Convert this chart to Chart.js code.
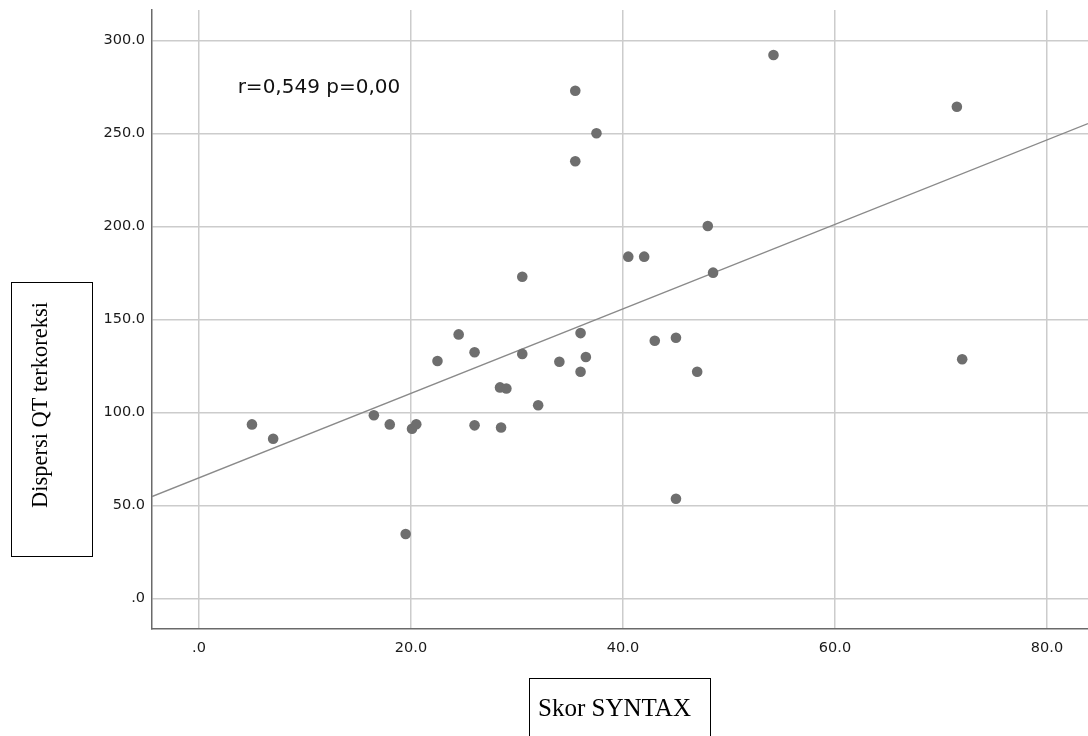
<!DOCTYPE html>
<html>
<head>
<meta charset="utf-8">
<script src="https://cdn.jsdelivr.net/npm/chart.js@4.4.1/dist/chart.umd.min.js"></script>
<style>
  html, body { margin: 0; padding: 0; background: #ffffff; }
  #wrap { width: 1088px; height: 736px; position: relative; }
</style>
</head>
<body>
<div id="wrap"><canvas id="c"></canvas></div>
<script>
// ---- Data ----
const syntaxScore = [5.0, 7.0, 16.5, 18.0, 20.1, 20.5, 19.5, 22.5, 24.5, 26.0, 26.0, 28.4, 29.0, 28.5,
  30.5, 30.5, 32.0, 34.0, 35.5, 35.5, 37.5, 36.0, 36.5, 36.0, 40.5, 42.0, 43.0, 45.0, 45.0, 47.0,
  48.0, 48.5, 54.2, 71.5, 72.0];
const qtDispersion = [93.5, 85.8, 98.4, 93.5, 91.2, 93.6, 34.6, 127.6, 141.9, 132.3, 93.0, 113.4, 112.8, 91.8,
  172.9, 131.4, 103.8, 127.2, 272.9, 235.0, 250.0, 142.6, 129.7, 121.8, 183.7, 183.7, 138.5, 140.1, 53.5, 121.8,
  200.2, 175.1, 292.1, 264.3, 128.5];
const fitLineX = [-4.43, 83.87];
const fitLineY = [54.7, 255.2];
const xTicks = [0, 20, 40, 60, 80];
const xTickLabels = ['.0', '20.0', '40.0', '60.0', '80.0'];
const yTicks = [0, 50, 100, 150, 200, 250, 300];
const yTickLabels = ['.0', '50.0', '100.0', '150.0', '200.0', '250.0', '300.0'];
const xTitle = 'Skor SYNTAX';
const yTitle = 'Dispersi QT terkoreksi';
const statText = 'r=0,549 p=0,00';

// ---- Decorations ----
function fitFont(ctx, text, targetW, family) {
  ctx.font = '100px ' + family;
  const w = ctx.measureText(text).width;
  return 100 * targetW / w;
}

const decor = {
  id: 'decor',
  afterDatasetsDraw(chart) {
    const ctx = chart.ctx;
    const xs = chart.scales.x, ys = chart.scales.y;
    ctx.save();
    ctx.fillStyle = '#111';
    ctx.font = '20px "DejaVu Sans"';
    ctx.textAlign = 'left';
    ctx.textBaseline = 'middle';
    ctx.fillText(statText, xs.getPixelForValue(3.65), ys.getPixelForValue(274.7));
    ctx.restore();
  },
  afterDraw(chart) {
    const ctx = chart.ctx;
    ctx.save();
    ctx.strokeStyle = '#000';
    ctx.lineWidth = 1;
    ctx.strokeRect(529.5, 678.5, 181, 70);
    const fam = '"Liberation Serif", serif';
    let fs = fitFont(ctx, xTitle, 153, fam);
    ctx.font = fs + 'px ' + fam;
    ctx.fillStyle = '#000';
    ctx.textAlign = 'left';
    ctx.textBaseline = 'alphabetic';
    ctx.fillText(xTitle, 538, 716);
    ctx.strokeRect(11.5, 282.5, 81, 274);
    fs = fitFont(ctx, yTitle, 206, fam);
    ctx.font = fs + 'px ' + fam;
    ctx.translate(47, 405);
    ctx.rotate(-Math.PI / 2);
    ctx.textAlign = 'center';
    ctx.fillText(yTitle, 0, 0);
    ctx.restore();
  }
};

const tickFont = { family: 'DejaVu Sans', size: 14.5 };

new Chart(document.getElementById('c'), {
  type: 'scatter',
  data: {
    datasets: [
      {
        type: 'scatter',
        data: syntaxScore.map((x, i) => ({ x: x, y: qtDispersion[i] })),
        backgroundColor: '#6e6e6e',
        borderColor: '#6e6e6e',
        borderWidth: 0,
        pointRadius: 5.3,
        order: 1
      },
      {
        type: 'line',
        data: fitLineX.map((x, i) => ({ x: x, y: fitLineY[i] })),
        borderColor: '#8a8a8a',
        borderWidth: 1.3,
        pointRadius: 0,
        fill: false,
        order: 2
      }
    ]
  },
  options: {
    responsive: true,
    maintainAspectRatio: false,
    animation: false,
    layout: { autoPadding: false, padding: { top: 10, left: 0, right: 0, bottom: 0 } },
    plugins: { legend: { display: false }, tooltip: { enabled: false } },
    scales: {
      x: {
        type: 'linear',
        min: -4.43,
        max: 83.87,
        afterBuildTicks: s => { s.ticks = xTicks.map(v => ({ value: v })); },
        afterFit: s => { s.height = 107; s.paddingLeft = 0; s.paddingRight = 0; },
        ticks: {
          callback: (v, i) => xTickLabels[i],
          font: tickFont,
          color: '#1a1a1a',
          padding: 11,
          maxRotation: 0,
          autoSkip: false
        },
        grid: { color: '#cccccc', lineWidth: 1.5, drawTicks: false },
        border: { display: true, color: '#6a6a6a', width: 1.5 }
      },
      y: {
        type: 'linear',
        min: -16.5,
        max: 316.3,
        afterBuildTicks: s => { s.ticks = yTicks.map(v => ({ value: v })); },
        afterFit: s => { s.width = 152; s.paddingTop = 0; s.paddingBottom = 0; },
        ticks: {
          callback: (v, i) => yTickLabels[i],
          font: tickFont,
          color: '#1a1a1a',
          padding: 7,
          autoSkip: false
        },
        grid: { color: '#cccccc', lineWidth: 1.5, drawTicks: false },
        border: { display: true, color: '#6a6a6a', width: 1.5 }
      }
    }
  },
  plugins: [decor]
});
</script>
</body>
</html>
